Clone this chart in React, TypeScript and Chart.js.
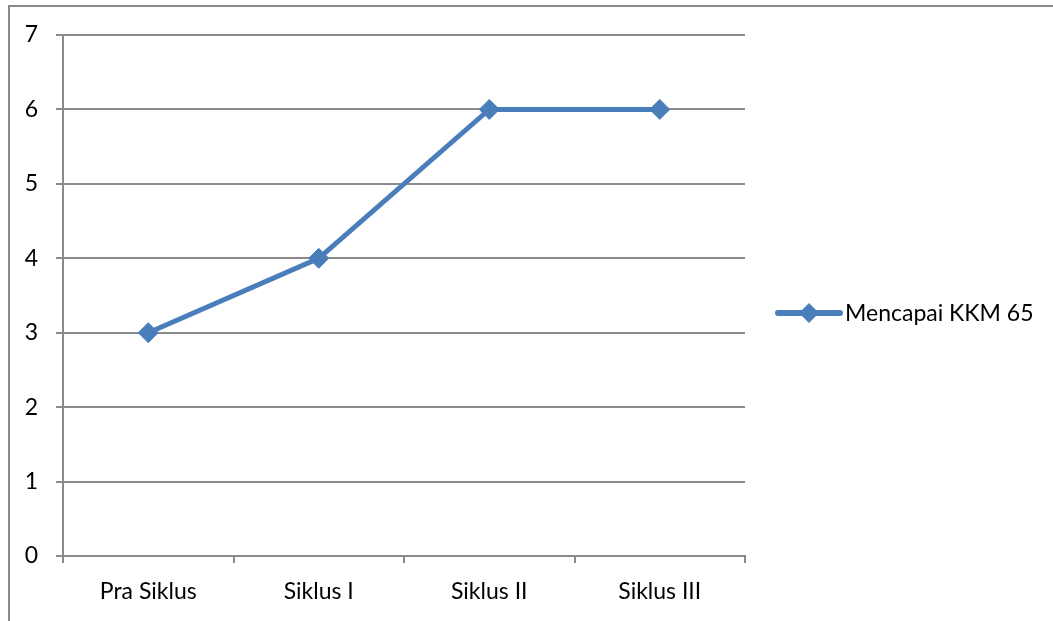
import React, { useEffect, useRef } from "react";
import { Chart, registerables } from "chart.js";

Chart.register(...registerables);

const categories = ["Pra Siklus", "Siklus I", "Siklus II", "Siklus III"];
const seriesLabel = "Mencapai KKM 65";
const seriesValues = [3, 4, 6, 6];
const yMin = 0;
const yMax = 7;

const FONT = "Lato, 'Open Sans', sans-serif";
const FONT_SIZE = 23;
const BLUE = "#4a7ebb";
const GRID = "#8a8a8a";

const legendPlugin = {
  id: "customLegend",
  afterDraw(chart: any) {
    const ctx = chart.ctx;
    const ds = chart.data.datasets[0];
    const y = 313;
    const x0 = 778;
    const x1 = 840;
    ctx.save();
    ctx.strokeStyle = ds.borderColor;
    ctx.lineWidth = 6;
    ctx.lineCap = "round";
    ctx.beginPath();
    ctx.moveTo(x0, y);
    ctx.lineTo(x1, y);
    ctx.stroke();
    const cx = (x0 + x1) / 2;
    const r = 10;
    ctx.fillStyle = ds.pointBackgroundColor;
    ctx.beginPath();
    ctx.moveTo(cx - r, y);
    ctx.lineTo(cx, y - r);
    ctx.lineTo(cx + r, y);
    ctx.lineTo(cx, y + r);
    ctx.closePath();
    ctx.fill();
    ctx.fillStyle = "#000";
    ctx.font = `${FONT_SIZE}px ${FONT}`;
    ctx.textBaseline = "middle";
    ctx.textAlign = "left";
    ctx.fillText(ds.label, 845, y + 1);
    ctx.restore();
  },
};

export default function App() {
  const ref = useRef<HTMLCanvasElement>(null);
  useEffect(() => {
    const chart = new Chart(ref.current!, {
      type: "line",
      data: {
        labels: categories,
        datasets: [
          {
            label: seriesLabel,
            data: seriesValues,
            borderColor: BLUE,
            backgroundColor: BLUE,
            pointBackgroundColor: BLUE,
            pointBorderColor: BLUE,
            borderWidth: 5,
            pointStyle: "rectRot",
            pointRadius: 10,
            pointBorderWidth: 1,
            tension: 0,
          },
        ],
      },
      options: {
        animation: false,
        responsive: false,
        devicePixelRatio: 1,
        layout: { padding: { left: 0, top: 35, right: 308, bottom: 0 } },
        plugins: { legend: { display: false }, tooltip: { enabled: false } },
        scales: {
          x: {
            offset: true,
            grid: {
              offset: true,
              display: true,
              drawOnChartArea: false,
              drawTicks: true,
              tickLength: 7,
              color: GRID,
              lineWidth: 2,
            },
            border: { color: GRID, width: 2 },
            ticks: { color: "#000", font: { family: FONT, size: FONT_SIZE }, padding: 15 },
            afterFit: (s: any) => {
              s.height = 65;
            },
          },
          y: {
            min: yMin,
            max: yMax,
            ticks: { stepSize: 1, color: "#000", font: { family: FONT, size: FONT_SIZE }, padding: 18 },
            grid: { color: GRID, lineWidth: 2, tickLength: 7 },
            border: { color: GRID, width: 2 },
            afterFit: (s: any) => {
              s.width = 63;
            },
          },
        },
      },
      plugins: [legendPlugin],
    });
    return () => chart.destroy();
  }, []);
  return (
    <div style={{ position: "fixed", left: 0, top: 0, width: 1053, height: 621, overflow: "hidden", background: "#fff" }}>
      <canvas ref={ref} width={1053} height={621} style={{ position: "absolute", left: 0, top: 0 }} />
      <div
        style={{
          position: "absolute",
          left: 8,
          top: 5,
          width: 1200,
          height: 800,
          border: "2px solid #8a8a8a",
          pointerEvents: "none",
        }}
      />
    </div>
  );
}
